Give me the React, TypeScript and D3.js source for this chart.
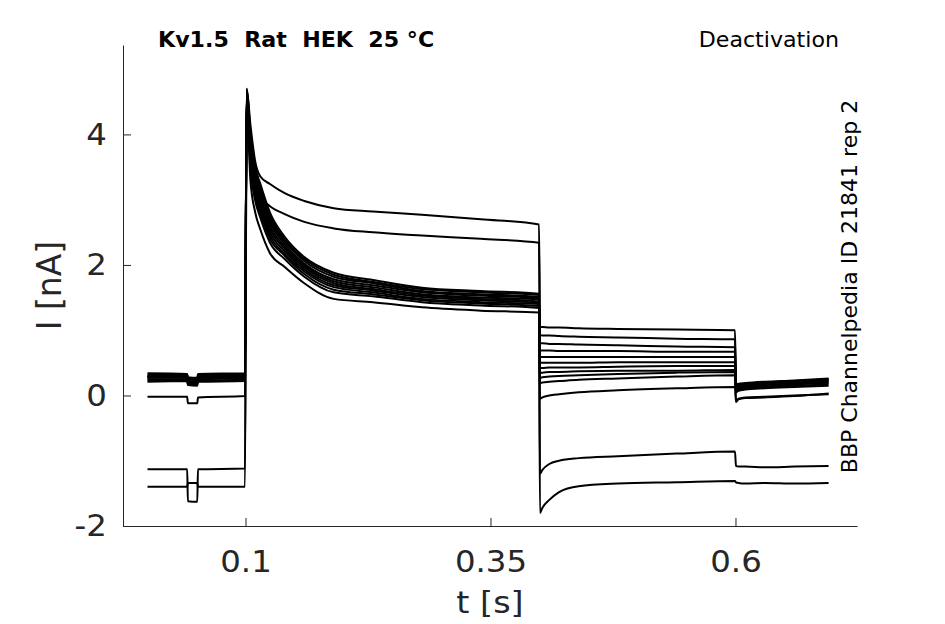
import { useRef, useEffect } from "react";
import * as d3 from "d3";

// axis setup
const X_DOMAIN: [number, number] = [-0.025, 0.724];
const Y_DOMAIN: [number, number] = [-2, 5.37];
const TICK_X = [0.1, 0.35, 0.6];
const TICK_Y = [-2, 0, 2, 4];

const TITLE = "Kv1.5  Rat  HEK  25 °C";
const PROTOCOL = "Deactivation";
const SOURCE = "BBP Channelpedia ID 21841 rep 2";

// holding segment (0 - 0.1 s)
const PRE_T = [0, 0.0405, 0.0412, 0.0508, 0.0515, 0.0995];
const PRE_I = [
  [0.32, 0.32, 0.26, 0.25, 0.31, 0.33],
  [0.29, 0.3, 0.23, 0.22, 0.29, 0.3],
  [0.34, 0.33, 0.28, 0.27, 0.33, 0.34],
  [0.27, 0.27, 0.21, 0.2, 0.27, 0.28],
  [0.3, 0.31, 0.25, 0.24, 0.3, 0.31],
  [0.25, 0.25, 0.19, 0.18, 0.25, 0.26],
  [0.29, 0.29, 0.24, 0.23, 0.29, 0.3],
  [0.23, 0.23, 0.17, 0.17, 0.23, 0.24],
  [0.28, 0.28, 0.22, 0.21, 0.27, 0.29],
  [0.21, 0.22, 0.16, 0.15, 0.21, 0.22],
  [-0.02, -0.02, -0.12, -0.12, -0.03, -0.01],
  [-1.13, -1.13, -1.62, -1.63, -1.13, -1.12],
  [-1.4, -1.4, -1.34, -1.34, -1.4, -1.4],
];

// activating pulse (0.1 - 0.4 s)
const PULSE_T = [0.1012, 0.105, 0.11, 0.115, 0.125, 0.14, 0.16, 0.19, 0.23, 0.28, 0.34, 0.3995];
const PULSE_I = [
  [4.7, 4.15, 3.58, 3.36, 3.24, 3.1, 2.98, 2.87, 2.82, 2.77, 2.7, 2.62],
  [4.62, 3.98, 3.32, 3.05, 2.9, 2.78, 2.66, 2.56, 2.5, 2.45, 2.4, 2.34],
  [4.7, 4.05, 3.5, 3.25, 2.8, 2.43, 2.12, 1.88, 1.77, 1.65, 1.6, 1.56],
  [4.68, 3.99, 3.44, 3.19, 2.75, 2.39, 2.09, 1.85, 1.74, 1.63, 1.58, 1.54],
  [4.66, 3.93, 3.39, 3.14, 2.7, 2.36, 2.06, 1.82, 1.72, 1.6, 1.55, 1.51],
  [4.64, 3.87, 3.33, 3.08, 2.65, 2.32, 2.02, 1.78, 1.69, 1.58, 1.53, 1.49],
  [4.62, 3.81, 3.28, 3.03, 2.6, 2.28, 1.99, 1.75, 1.66, 1.55, 1.5, 1.47],
  [4.6, 3.75, 3.22, 2.97, 2.55, 2.25, 1.96, 1.72, 1.63, 1.53, 1.48, 1.44],
  [4.58, 3.69, 3.16, 2.91, 2.5, 2.21, 1.93, 1.69, 1.61, 1.51, 1.46, 1.42],
  [4.56, 3.63, 3.11, 2.86, 2.45, 2.17, 1.9, 1.66, 1.58, 1.48, 1.43, 1.4],
  [4.54, 3.57, 3.05, 2.8, 2.4, 2.14, 1.86, 1.62, 1.55, 1.46, 1.41, 1.37],
  [4.51, 3.49, 2.98, 2.73, 2.34, 2.09, 1.82, 1.58, 1.52, 1.43, 1.38, 1.34],
  [4.45, 3.3, 2.8, 2.55, 2.18, 1.97, 1.72, 1.48, 1.43, 1.35, 1.3, 1.27],
];

// tail step (0.4 - 0.6 s)
const TAIL_T = [0.4005, 0.403, 0.41, 0.42, 0.44, 0.48, 0.54, 0.5995];
const TAIL_I = [
  [1.05, 1.05, 1.04, 1.04, 1.03, 1.02, 1.01, 1.0],
  [0.93, 0.92, 0.92, 0.91, 0.9, 0.89, 0.87, 0.86],
  [0.8, 0.8, 0.79, 0.79, 0.78, 0.77, 0.75, 0.74],
  [0.69, 0.69, 0.69, 0.68, 0.68, 0.68, 0.67, 0.67],
  [0.59, 0.59, 0.59, 0.59, 0.59, 0.59, 0.59, 0.59],
  [0.5, 0.5, 0.5, 0.5, 0.5, 0.51, 0.51, 0.51],
  [0.42, 0.42, 0.43, 0.43, 0.43, 0.44, 0.45, 0.45],
  [0.35, 0.35, 0.36, 0.36, 0.37, 0.38, 0.38, 0.39],
  [0.27, 0.28, 0.29, 0.3, 0.31, 0.33, 0.35, 0.36],
  [0.19, 0.2, 0.21, 0.22, 0.24, 0.26, 0.29, 0.31],
  [-0.05, -0.03, 0.0, 0.02, 0.05, 0.08, 0.11, 0.13],
  [-1.2, -1.14, -1.05, -1.0, -0.96, -0.93, -0.89, -0.86],
  [-1.8, -1.72, -1.6, -1.48, -1.39, -1.35, -1.33, -1.31],
];

// back to holding (0.6 - 0.695 s)
const POST_T = [0.6005, 0.603, 0.61, 0.63, 0.66, 0.695];
const POST_I = [
  [0.17, 0.18, 0.19, 0.21, 0.23, 0.26],
  [0.15, 0.16, 0.18, 0.2, 0.22, 0.24],
  [0.14, 0.15, 0.17, 0.19, 0.22, 0.25],
  [0.12, 0.14, 0.16, 0.18, 0.2, 0.23],
  [0.11, 0.12, 0.14, 0.17, 0.19, 0.22],
  [0.09, 0.11, 0.13, 0.16, 0.18, 0.2],
  [0.08, 0.1, 0.12, 0.14, 0.17, 0.19],
  [0.06, 0.08, 0.1, 0.13, 0.15, 0.17],
  [0.05, 0.07, 0.09, 0.11, 0.13, 0.15],
  [-0.08, -0.05, -0.03, -0.02, 0.0, 0.02],
  [-0.1, -0.06, -0.04, -0.03, -0.01, 0.03],
  [-1.08, -1.09, -1.09, -1.1, -1.09, -1.08],
  [-1.33, -1.34, -1.35, -1.34, -1.35, -1.34],
];

const WIDTH = 945;
const HEIGHT = 624;
const PLOT = { left: 123, right: 857, top: 45, bottom: 526 };
const FONT = "'DejaVu Sans', sans-serif";
const AXIS_COLOR = "#262626";
// the figure's text is a little wider than its height, stretch glyphs to match
const STRETCH = 1.08;

export default function App() {
  const svgRef = useRef<SVGSVGElement>(null);

  useEffect(() => {
    if (!svgRef.current) return;
    const svg = d3.select(svgRef.current);
    svg.selectAll("*").remove();

    const x = d3.scaleLinear().domain(X_DOMAIN).range([PLOT.left, PLOT.right]);
    const y = d3.scaleLinear().domain(Y_DOMAIN).range([PLOT.bottom, PLOT.top]);

    const line = d3
      .line<[number, number]>()
      .x((d) => x(d[0]))
      .y((d) => y(d[1]))
      .curve(d3.curveMonotoneX);

    // Sweeps
    const traces = svg.append("g");
    for (let k = 0; k < PRE_I.length; k++) {
      const pts: [number, number][] = [
        ...PRE_T.map((t, j) => [t, PRE_I[k][j]] as [number, number]),
        ...PULSE_T.map((t, j) => [t, PULSE_I[k][j]] as [number, number]),
        ...TAIL_T.map((t, j) => [t, TAIL_I[k][j]] as [number, number]),
        ...POST_T.map((t, j) => [t, POST_I[k][j]] as [number, number]),
      ];
      traces
        .append("path")
        .attr("d", line(pts))
        .attr("fill", "none")
        .attr("stroke", "#000")
        .attr("stroke-width", 2)
        .attr("stroke-linejoin", "round");
    }

    // Axes (ticks pointing inward)
    const gx = svg
      .append("g")
      .attr("transform", `translate(0,${PLOT.bottom})`)
      .call(
        d3
          .axisBottom(x)
          .tickValues(TICK_X)
          .tickSize(-8)
          .tickSizeOuter(0)
          .tickPadding(24.5)
          .tickFormat((d) => String(d))
      );
    const gy = svg
      .append("g")
      .attr("transform", `translate(${PLOT.left},0)`)
      .call(
        d3
          .axisLeft(y)
          .tickValues(TICK_Y)
          .tickSize(-8)
          .tickSizeOuter(0)
          .tickPadding(15)
          .tickFormat((d) => String(d))
      );

    for (const g of [gx, gy]) {
      g.select(".domain").attr("stroke", AXIS_COLOR).attr("stroke-width", 1);
      g.selectAll(".tick line").attr("stroke", AXIS_COLOR).attr("stroke-width", 1);
      g.selectAll(".tick text")
        .attr("fill", AXIS_COLOR)
        .attr("transform", `scale(${STRETCH},1)`)
        .style("font-family", FONT)
        .style("font-size", "30px");
    }

    // Axis labels
    svg
      .append("g")
      .attr("transform", `translate(${(PLOT.left + PLOT.right) / 2},613) scale(${STRETCH},1)`)
      .append("text")
      .attr("text-anchor", "middle")
      .attr("fill", AXIS_COLOR)
      .style("font-family", FONT)
      .style("font-size", "31px")
      .text("t [s]");

    svg
      .append("text")
      .attr("transform", `translate(61,${(PLOT.top + PLOT.bottom) / 2}) rotate(-90)`)
      .attr("text-anchor", "middle")
      .attr("fill", AXIS_COLOR)
      .style("font-family", FONT)
      .style("font-size", "33px")
      .text("I [nA]");

    // Title and annotations
    svg
      .append("g")
      .attr("transform", `translate(158,46.5) scale(${STRETCH},1)`)
      .append("text")
      .attr("fill", "#000")
      .style("font-family", FONT)
      .style("font-weight", "bold")
      .style("font-size", "20.5px")
      .style("white-space", "pre")
      .text(TITLE);

    svg
      .append("g")
      .attr("transform", `translate(839,46.5) scale(${STRETCH},1)`)
      .append("text")
      .attr("text-anchor", "end")
      .attr("fill", "#000")
      .style("font-family", FONT)
      .style("font-size", "20.5px")
      .text(PROTOCOL);

    svg
      .append("text")
      .attr("transform", `translate(857,${(100 + 473) / 2}) rotate(-90)`)
      .attr("text-anchor", "middle")
      .attr("fill", "#000")
      .style("font-family", FONT)
      .style("font-size", "22px")
      .text(SOURCE);
  }, []);

  return (
    <div style={{ position: "fixed", left: 0, top: 0, width: WIDTH, height: HEIGHT, background: "#fff" }}>
      <svg ref={svgRef} width={WIDTH} height={HEIGHT} />
    </div>
  );
}
